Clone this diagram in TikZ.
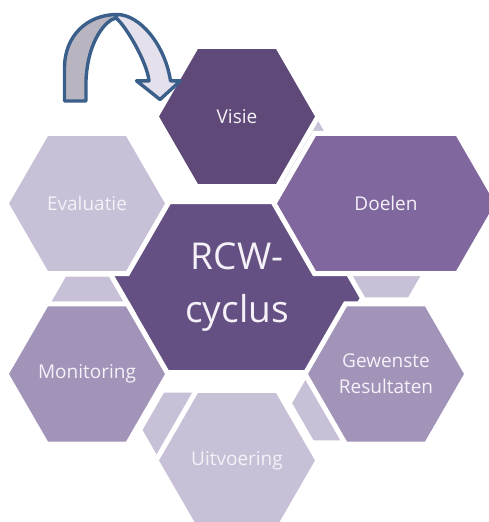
\documentclass[tikz,border=0pt]{standalone}
\usepackage{fontspec}
\newfontfamily\hexfont{Open Sans}
\usetikzlibrary{shapes.symbols}

\definecolor{visiepurple}{HTML}{5E4978}
\definecolor{kernpurple}{HTML}{645082}
\definecolor{doelenpurple}{HTML}{80679E}
\definecolor{midlilac}{HTML}{A293B9}
\definecolor{palelilac}{HTML}{C7C0D6}
\definecolor{hextext}{HTML}{F4F2F8}
\definecolor{arrowline}{HTML}{3A5F8A}
\definecolor{arrowback}{HTML}{B8B4C0}
\definecolor{arrowfront}{HTML}{E4E0EC}

\begin{document}
\begin{tikzpicture}[x=1pt, y=-1pt]
	\tikzstyle{hexbox} = [signal, signal to=east and west, signal pointer angle=120, draw=white, line width=5, inner sep=0]
	\tikzstyle{hexlabel} = [text=hextext, align=center, inner sep=0, font=\hexfont\fontsize{19}{26}\selectfont]
	\tikzstyle{outerhex} = [hexbox, minimum width=162, minimum height=140.3]
	\tikzstyle{smallhex} = [hexbox, minimum width=92, minimum height=79.7, fill=palelilac]
	\tikzstyle{arrowpart} = [draw=arrowline, line width=3.4, line join=round]

	\useasboundingbox (0,0) rectangle (489,522);
	\clip (0,0) rectangle (489,522);

	\node [hexbox, fill=kernpurple, minimum width=264, minimum height=171, text=hextext, align=center, font=\hexfont\fontsize{37}{53}\selectfont] (rcw) at (237,287) {RCW-\\cyclus};

	\node [smallhex] (s1) at (288.5,144) {};
	\node [smallhex] (s2) at (386.6,260.1) {};
	\node [smallhex] (s3) at (335.1,403.1) {};
	\node [smallhex] (s4) at (185.5,430) {};
	\node [smallhex] (s5) at (87.4,313.9) {};

	\node [outerhex, fill=visiepurple, label={[hexlabel]center:Visie}] (visie) at (237,116.5) {};
	\node [hexbox, fill=doelenpurple, minimum width=224, minimum height=140.3, label={[hexlabel]center:Doelen}] (doelen) at (386,203.5) {};
	\node [outerhex, fill=midlilac, label={[hexlabel]center:Gewenste\\Resultaten}] (gewenst) at (386,374) {};
	\node [outerhex, fill=palelilac, label={[hexlabel]center:Uitvoering}] (uitvoering) at (237,460.5) {};
	\node [outerhex, fill=midlilac, label={[hexlabel]center:Monitoring}] (monitoring) at (87,374) {};
	\node [outerhex, fill=palelilac, label={[hexlabel]center:Evaluatie}] (evaluatie) at (87,203.5) {};

	% terug naar de visie
	\filldraw [arrowpart, fill=arrowback] (64.5,101) -- (64.5,68) .. controls (64.5,35) and (88,14.5) .. (117,14.5)
		-- (116,18) .. controls (106,20) and (88,40) .. (86,80) -- (86,101) -- cycle;
	\filldraw [arrowpart, fill=arrowfront] (117,14.5) .. controls (140,14.5) and (165,45) .. (170.5,80.8)
		-- (180.5,80.8) -- (160,99.5) -- (136.5,80.8) -- (149,80.8)
		.. controls (147,62) and (126,26) .. (116,18) -- cycle;
\end{tikzpicture}
\end{document}
